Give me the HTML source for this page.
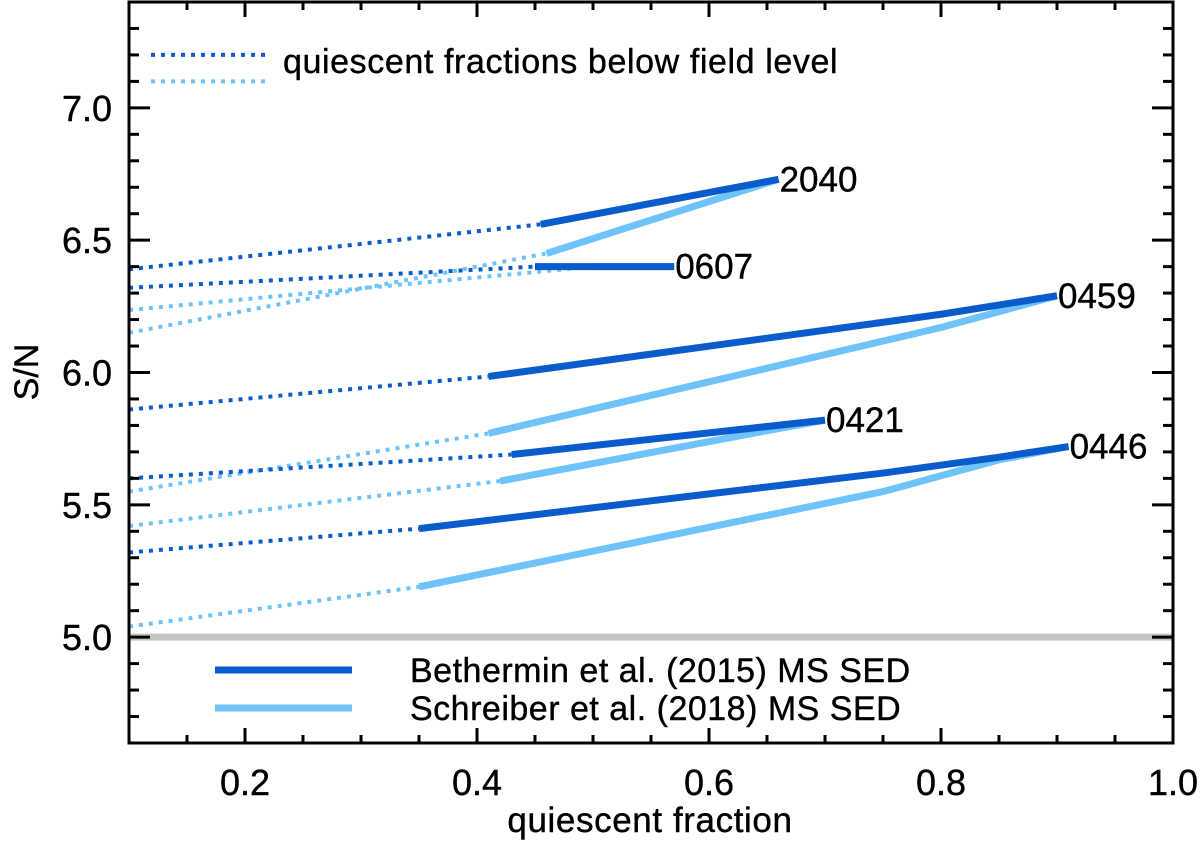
<!DOCTYPE html>
<html><head><meta charset="utf-8"><style>
body{margin:0;background:#fff;}
svg text{font-family:"Liberation Sans",sans-serif;fill:#000;stroke:#000;stroke-width:0.4;}
</style></head><body>
<svg id="chart" width="1200" height="850" xmlns="http://www.w3.org/2000/svg">
<g id="marks"></g>
<g id="axes"></g>
</svg>
<script>
const objects = ['2040','0607','0459','0421','0446'];
const darkSolid = [
 [[0.455,6.56],[0.66,6.73]],
 [[0.45,6.40],[0.57,6.40]],
 [[0.41,5.985],[0.80,6.22],[0.90,6.29]],
 [[0.43,5.69],[0.70,5.82]],
 [[0.35,5.41],[0.75,5.62],[0.85,5.68],[0.91,5.72]]
];
const lightSolid = [
 [[0.46,6.45],[0.66,6.73]],
 [[0.50,6.40],[0.57,6.40]],
 [[0.41,5.77],[0.80,6.17],[0.90,6.29]],
 [[0.42,5.59],[0.65,5.78],[0.70,5.82]],
 [[0.35,5.19],[0.75,5.55],[0.85,5.67],[0.91,5.72]]
];
const darkDotStart = [6.39,6.32,5.86,5.60,5.32];
const lightDotStart = [6.15,6.236,5.55,5.42,5.04];
const labelPos = [[0.66,6.73],[0.57,6.40],[0.90,6.29],[0.70,5.82],[0.91,5.72]];
const xTicks = [0.2,0.4,0.6,0.8,1.0];
const yTicks = [5.0,5.5,6.0,6.5,7.0];

const L=129,R=1173,T=2,B=743;
const X0=0.1,X1=1.0,Y0=4.6,Y1=7.4;
const xs=v=>L+(v-X0)/(X1-X0)*(R-L);
const ys=v=>B-(v-Y0)/(Y1-Y0)*(B-T);
const NS='http://www.w3.org/2000/svg';
const marks=document.getElementById('marks'), axes=document.getElementById('axes');
function mk(tag,attrs,parent){const e=document.createElementNS(NS,tag);for(const k in attrs)e.setAttribute(k,attrs[k]);parent.appendChild(e);return e;}
const DARK='#0a5ccc', LIGHT='#6ec3fa';

let g=mk('line',{x1:L,x2:R,y1:ys(5.0),y2:ys(5.0),stroke:'#c4c4c4','stroke-width':7},marks);



function poly(pts,color,w,dash,name){
  const p=mk('polyline',{points:pts.map(q=>xs(q[0])+','+ys(q[1])).join(' '),fill:'none',stroke:color,'stroke-width':w},marks);
  if(dash)p.setAttribute('stroke-dasharray',dash);
  
  
}
objects.forEach((o,i)=>{
  poly([[X0,lightDotStart[i]],lightSolid[i][0]],LIGHT,4,'4 6','light-dotted-'+o);
  poly([[X0,darkDotStart[i]],darkSolid[i][0]],DARK,4,'4 6','dark-dotted-'+o);
});
objects.forEach((o,i)=>{
  poly(lightSolid[i],LIGHT,7,null,'light-line-'+o);
  poly(darkSolid[i],DARK,7,null,'dark-line-'+o);
  const t=mk('text',{x:xs(labelPos[i][0])+1,y:ys(labelPos[i][1])+12,'font-size':35},marks);
  t.textContent=o;
  
  
});

poly([[0.119,7.2],[0.22,7.2]],DARK,4,'4 6','legend-dark-dotted');
poly([[0.119,7.1],[0.22,7.1]],LIGHT,4,'4 6','legend-light-dotted');
let t=mk('text',{x:283,y:73,'font-size':34,'letter-spacing':'0.6'},marks);
t.textContent='quiescent fractions below field level';


let l=mk('line',{x1:215,x2:352,y1:670,y2:670,stroke:DARK,'stroke-width':7},marks);


l=mk('line',{x1:215,x2:352,y1:708,y2:708,stroke:LIGHT,'stroke-width':7},marks);


t=mk('text',{x:410,y:682,'font-size':34,'letter-spacing':'0.5'},marks);
t.textContent='Bethermin et al. (2015) MS SED';


t=mk('text',{x:410,y:720,'font-size':34,'letter-spacing':'0.5'},marks);
t.textContent='Schreiber et al. (2018) MS SED';



let f=mk('rect',{x:L,y:T,width:R-L,height:B-T,fill:'none',stroke:'#000','stroke-width':3},axes);


for(let k=0;k<=18;k++){
  const v=X0+k*0.05, x=xs(v), maj=(k%4==2);
  const len=maj?15:8;
  mk('line',{x1:x,x2:x,y1:B,y2:B-len,stroke:'#000','stroke-width':3},axes);
  mk('line',{x1:x,x2:x,y1:T,y2:T+len,stroke:'#000','stroke-width':3},axes);
}
xTicks.forEach(v=>{
  const e=mk('text',{x:xs(v),y:795,'font-size':36,'text-anchor':'middle'},axes);
  e.textContent=v.toFixed(1);
  
  
});
for(let k=1;k<28;k++){
  const v=Y0+k*0.1, y=ys(v), maj=(k%5==4);
  const len=maj?21:10;
  mk('line',{x1:L,x2:L+len,y1:y,y2:y,stroke:'#000','stroke-width':3},axes);
  mk('line',{x1:R,x2:R-len,y1:y,y2:y,stroke:'#000','stroke-width':3},axes);
}
yTicks.forEach(v=>{
  const e=mk('text',{x:112,y:ys(v)+13,'font-size':36,'text-anchor':'end'},axes);
  e.textContent=v.toFixed(1);
  
  
});
t=mk('text',{x:650,y:832,'font-size':35,'text-anchor':'middle','letter-spacing':'0.6'},axes);
t.textContent='quiescent fraction';


t=mk('text',{x:38,y:372,'font-size':34,'text-anchor':'middle',transform:'rotate(-90 38 372)'},axes);
t.textContent='S/N';


</script>
</body></html>
